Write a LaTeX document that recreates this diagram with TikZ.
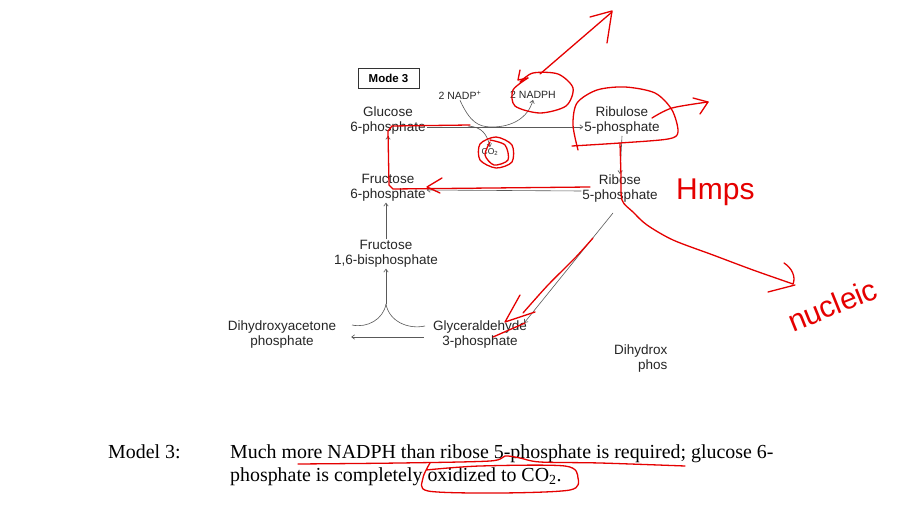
\documentclass[tikz,border=0pt]{standalone}
\usepackage{fontspec}
\setmainfont{Liberation Serif}
\newfontfamily\dsans{Liberation Sans}
\usetikzlibrary{arrows.meta,calc}
\begin{document}
\begin{tikzpicture}[x=1pt,y=-1pt,
  met/.style={font=\dsans\fontsize{13.5}{15}\selectfont, text=black!85, align=center, inner sep=1pt},
  small/.style={met, font=\dsans\fontsize{10.5}{12}\selectfont},
  link/.style={draw=black!65, line width=0.6pt},
  arr/.style={link, -{Straight Barb[length=3pt,width=4.5pt]}},
  ink/.style={draw=red!90!black, line width=1.3pt, line cap=round, line join=round},
  inktext/.style={text=red!90!black, font=\dsans\fontsize{30}{30}\selectfont, inner sep=0pt},
  body/.style={font=\fontsize{19.9}{23}\selectfont, anchor=base west, inner sep=0pt},
]
\useasboundingbox[fill=white] (0,0) rectangle (911,521);

% ---------- nodes ----------
\node[draw=black!80, line width=0.8pt, font=\dsans\bfseries\fontsize{11.5}{13}\selectfont,
      minimum width=61pt, minimum height=20pt, inner sep=0pt] (mode) at (388.5,78) {Mode 3};
\node[met] (g6p)  at (388,121) {Glucose\\6-phosphate};
\node[met] (ru5p) at (622,121) {Ribulose\\5-phosphate};
\node[met] (f6p)  at (388,188) {Fructose\\6-phosphate};
\node[met] (r5p)  at (620,189) {Ribose\\5-phosphate};
\node[met] (f16)  at (386,254) {Fructose\\1,6-bisphosphate};
\node[met] (dhap) at (282,335) {Dihydroxyacetone\\phosphate};
\node[met] (gap)  at (480,335) {Glyceraldehyde\\3-phosphate};
\node[small] (nadp)  at (460,95) {2 NADP\textsuperscript{+}};
\node[small] (nadph) at (533,95) {2 NADPH};
\node[met, font=\dsans\fontsize{8.5}{10}\selectfont] (co2) at (490,152) {CO\textsubscript{2}};
\node[met, anchor=base west] (dh2) at (613,355) {Dihydrox};
\node[met, anchor=base west] (ph2) at (637,370) {phos};

\coordinate (j) at (386,304);
\coordinate (yl) at (352,325);
\coordinate (yr) at (425,326);
\coordinate (m1) at (468,126);
\coordinate (m2) at (492,127);

% ---------- connectors ----------
\draw[arr] ([yshift=-6pt]g6p.east) -- ([yshift=-6pt]ru5p.west);
\draw[arr] (nadp.south) .. controls (470,122) and (478,127) .. (m2)
           .. controls (512,127) and (528,118) .. (nadph.south);
\draw[arr] (m1) .. controls (482,127) and (487,134) .. (co2.north);
\draw[arr] (ru5p.south) -- (r5p.north);
\draw[arr] ([yshift=-2pt]r5p.west) -- ([yshift=-2pt]f6p.east);
\draw[arr] (f6p.north) -- (g6p.south);
\draw[arr] (f16.north) -- (f16.north |- f6p.south);
\draw[link] (yl) to[out=-12,in=-100] (j);
\draw[link] (yr) to[out=-168,in=-80] (j);
\draw[arr] (j) -- (f16.south);
\draw[arr] ([xshift=-8pt,yshift=-2pt]gap.west) -- ([xshift=14pt,yshift=-2pt]dhap.east);
\draw[arr] ([xshift=-7pt,yshift=-9pt]r5p.south) -- ([xshift=-4pt,yshift=-3pt]gap.north east);

% ---------- bottom text ----------
\node[body] (lab) at (108,458) {Model 3:};
\node[body] (l1) at (230,458) {Much more NADPH than ribose 5-phosphate is required; glucose 6-};
\node[body] (l2) at (230,481) {phosphate is completely oxidized to CO\textsubscript{2}.};

% ---------- red annotations ----------
\draw[ink] plot[smooth] coordinates {(528,78) (513,90) (515,106) (540,113) (566,106) (573,88) (558,74) (533,73) (520,82)};
\draw[ink] (540,74) -- (612,12);
\draw[ink] (590,17) -- (612,11) -- (607,43);
\draw[ink] (520,70) -- (518,80) -- (528,78);
\draw[ink] (470,125) -- (392,126) -- (388,131) -- (389,185) -- (393,189) -- (590,187);
\draw[ink] (442,178) -- (427,187) -- (440,193);
\draw[ink] plot[smooth cycle] coordinates {(496,137) (512,145) (512,162) (496,168) (480,160) (480,144)};
\draw[ink] plot[smooth] coordinates {(490,140) (505,145) (508,160) (494,165) (485,155) (490,142)};
\draw[ink] plot[smooth] coordinates {(578,150) (573,125) (577,103) (597,90) (625,87) (655,93) (672,110) (678,132) (668,139) (620,143) (572,146)};
\draw[ink] plot[smooth] coordinates {(652,118) (672,108) (708,102)};
\draw[ink] (693,98) -- (708,102) -- (700,114);
\draw[ink] plot[smooth] coordinates {(620,143) (621,175) (622,200) (633,212) (647,225) (673,240) (713,255) (753,270) (793,284)};
\draw[ink] (784,263) .. controls (792,268) and (796,277) .. (793,284);
\draw[ink] (768,292) -- (795,285);
\draw[ink] plot[smooth] coordinates {(593,238) (575,258) (548,285) (523,313)};
\draw[ink] (520,295) -- (505,322) -- (535,312);
\draw[ink] (493,337) -- (525,323);
\node[inktext, anchor=west] (hmps) at (676,192) {Hmps};
\node[inktext, anchor=south west, rotate=22] (nuc) at (793,333) {nucleic};
\draw[ink] plot[smooth] coordinates {(298,464) (400,463) (490,461) (505,456) (520,458) (540,462) (600,463) (685,466)};
\draw[ink] plot[smooth] coordinates {(430,463) (423,478) (428,491) (500,493) (570,490) (578,478) (565,466) (480,466) (426,470)};
\end{tikzpicture}
\end{document}
